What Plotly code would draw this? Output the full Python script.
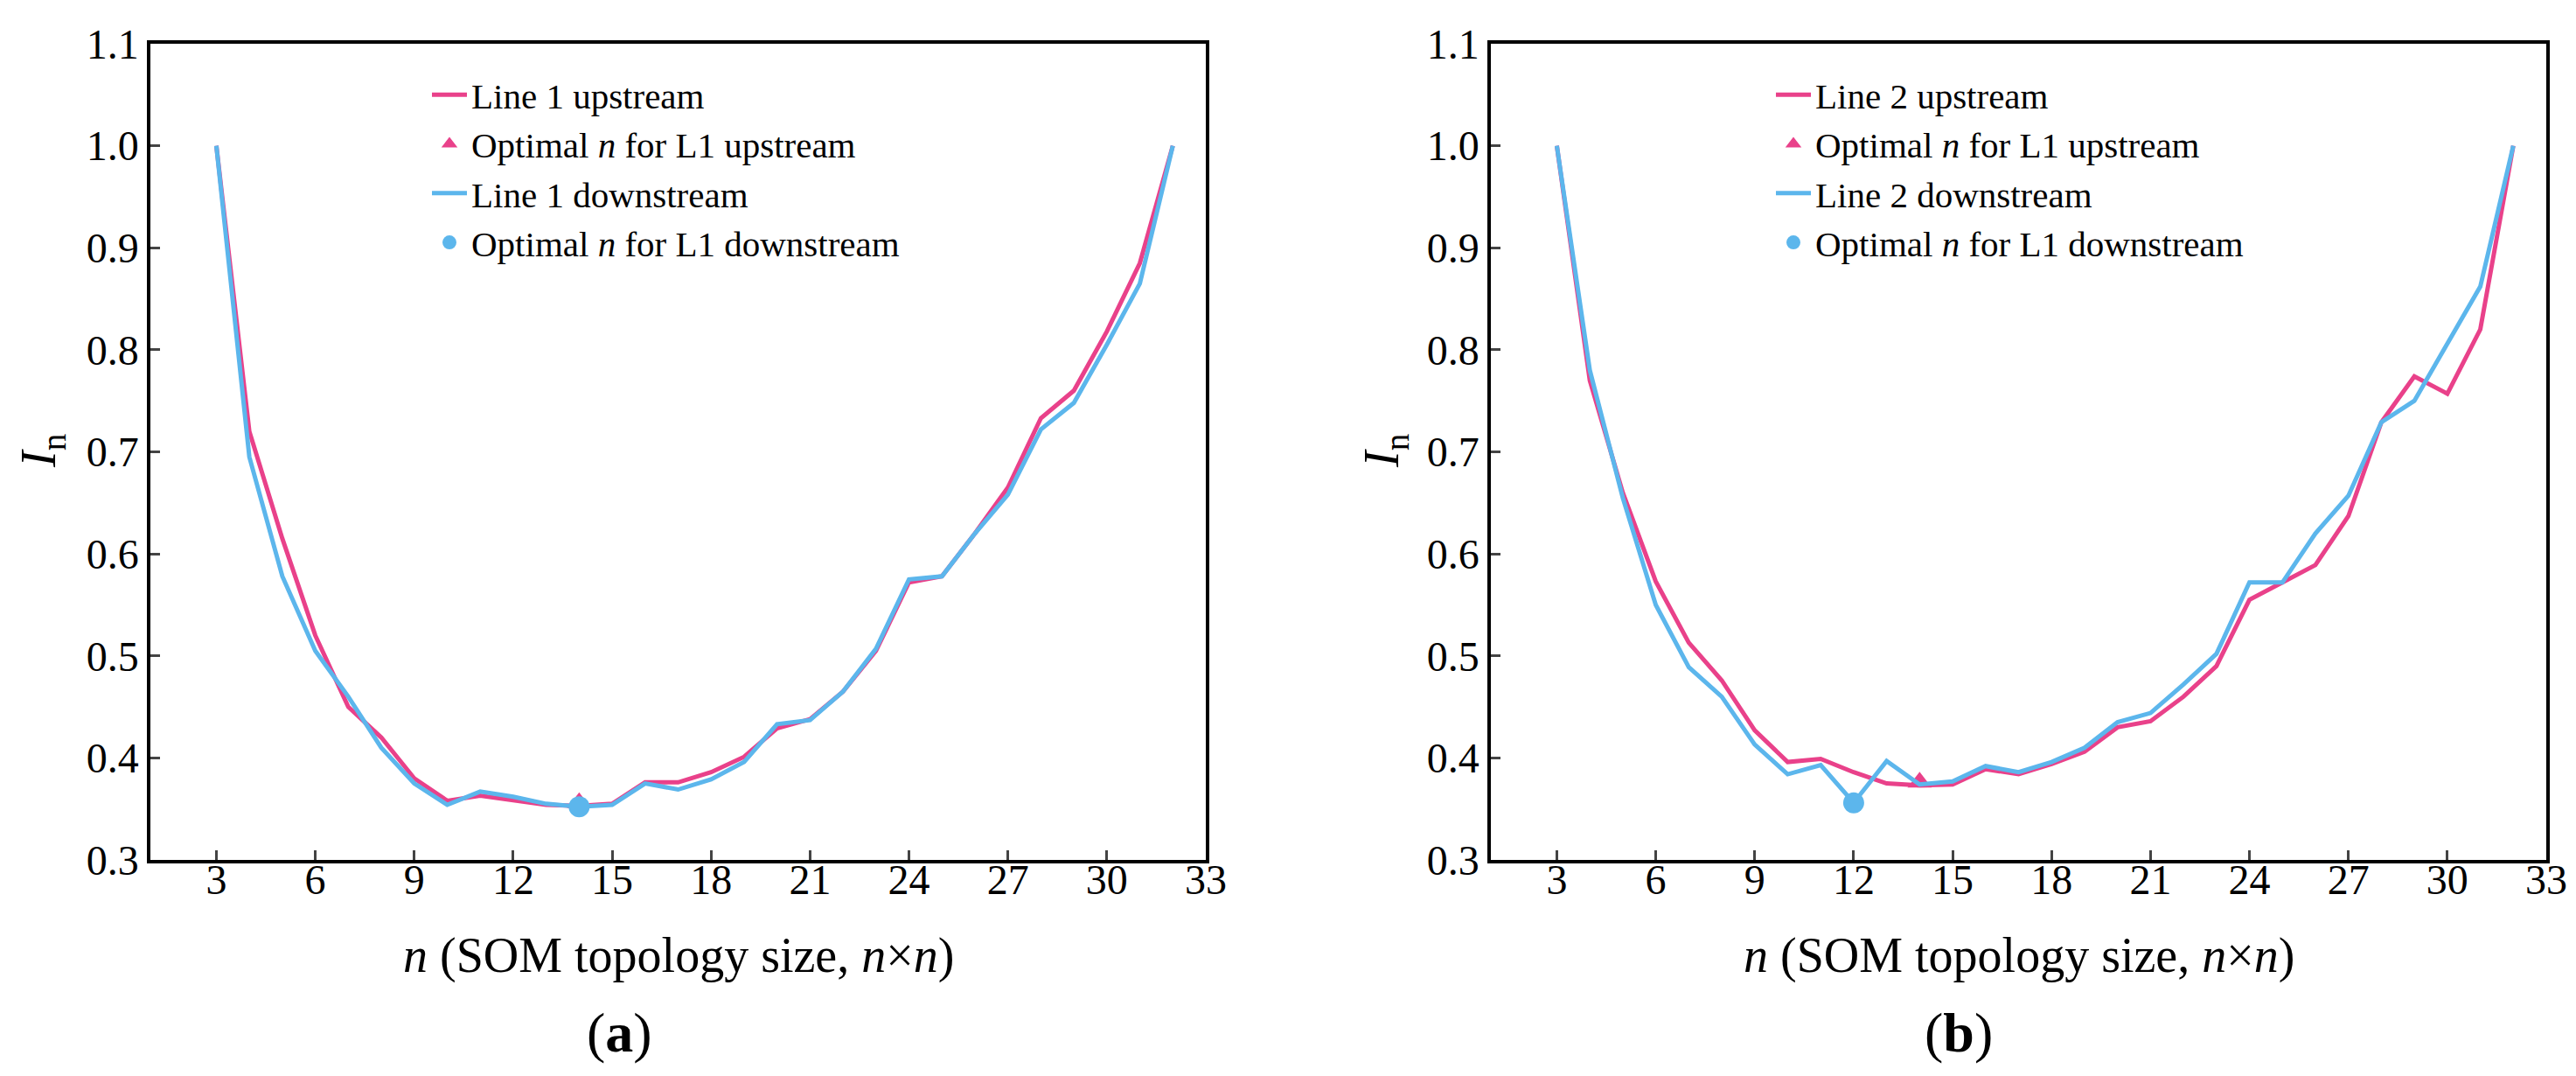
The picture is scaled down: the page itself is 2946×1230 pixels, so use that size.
import plotly.graph_objects as go

# eixo x: tamanho n da topologia SOM
n_vals = list(range(3, 33))

# painel (a) - linha 1
l1_up = [1.0, 0.72, 0.615, 0.52, 0.45, 0.42, 0.38, 0.358, 0.363, 0.358,
         0.354, 0.353, 0.355, 0.376, 0.376, 0.386, 0.401, 0.429, 0.438, 0.465,
         0.505, 0.572, 0.578, 0.62, 0.665, 0.733, 0.76, 0.818, 0.885, 1.0]
l1_down = [1.0, 0.695, 0.578, 0.505, 0.46, 0.41, 0.375, 0.354, 0.367, 0.362,
           0.355, 0.352, 0.354, 0.375, 0.369, 0.379, 0.396, 0.433, 0.437, 0.465,
           0.507, 0.575, 0.578, 0.62, 0.658, 0.722, 0.748, 0.805, 0.865, 1.0]

# painel (b) - linha 2
l2_up = [1.0, 0.77, 0.66, 0.573, 0.513, 0.476, 0.427, 0.396, 0.399, 0.386,
         0.375, 0.373, 0.374, 0.389, 0.384, 0.394, 0.406, 0.43, 0.436, 0.46,
         0.49, 0.555, 0.572, 0.589, 0.637, 0.729, 0.774, 0.757, 0.82, 1.0]
l2_down = [1.0, 0.78, 0.655, 0.55, 0.489, 0.46, 0.413, 0.384, 0.393, 0.356,
           0.397, 0.374, 0.377, 0.392, 0.386, 0.396, 0.41, 0.435, 0.444, 0.472,
           0.502, 0.572, 0.572, 0.62, 0.657, 0.729, 0.75, 0.805, 0.862, 1.0]

# pontos ótimos (n, In)
opt_a_up = (14, 0.356)
opt_a_down = (14, 0.352)
opt_b_up = (14, 0.376)
opt_b_down = (12, 0.356)

x_ticks = list(range(3, 34, 3))
y_ticks = [0.3, 0.4, 0.5, 0.6, 0.7, 0.8, 0.9, 1.0, 1.1]

PINK = '#E9418A'
BLUE = '#5CB6EC'
FONT = 'Liberation Serif, DejaVu Serif, Times New Roman, serif'

fig = go.Figure()

def add_panel(fig, up, down, opt_up, opt_down, line_no, xa, ya, leg):
    fig.add_trace(go.Scatter(x=n_vals, y=up, mode='lines', name=f'Line {line_no} upstream',
                             line=dict(color=PINK, width=5), xaxis=xa, yaxis=ya, legend=leg))
    fig.add_trace(go.Scatter(x=[opt_up[0]], y=[opt_up[1]], mode='markers',
                             name='Optimal <i>n</i> for L1 upstream',
                             marker=dict(symbol='triangle-up', color=PINK, size=24),
                             xaxis=xa, yaxis=ya, legend=leg))
    fig.add_trace(go.Scatter(x=n_vals, y=down, mode='lines', name=f'Line {line_no} downstream',
                             line=dict(color=BLUE, width=5), xaxis=xa, yaxis=ya, legend=leg))
    fig.add_trace(go.Scatter(x=[opt_down[0]], y=[opt_down[1]], mode='markers',
                             name='Optimal <i>n</i> for L1 downstream',
                             marker=dict(symbol='circle', color=BLUE, size=24),
                             xaxis=xa, yaxis=ya, legend=leg))

add_panel(fig, l1_up, l1_down, opt_a_up, opt_a_down, 1, 'x', 'y', 'legend')
add_panel(fig, l2_up, l2_down, opt_b_up, opt_b_down, 2, 'x2', 'y2', 'legend2')

W, H = 2946, 1230
y_dom = [1 - 975 / H, 1 - 42 / H]

eixo_x = dict(range=[1, 33], tickvals=x_ticks, ticks='inside', ticklen=11, tickwidth=3,
              showline=True, linecolor='black', linewidth=3.5, mirror=True,
              showgrid=False, zeroline=False, automargin=False, ticklabelstandoff=-22,
              tickfont=dict(family=FONT, size=48, color='black'))
eixo_y = dict(range=[0.3, 1.1], tickvals=y_ticks, tickformat='.1f', ticks='inside',
              ticklen=11, tickwidth=3, showline=True, linecolor='black', linewidth=3.5,
              mirror=True, showgrid=False, zeroline=False, automargin=False,
              tickfont=dict(family=FONT, size=48, color='black'))

legenda = dict(font=dict(family=FONT, size=41, color='black'), bgcolor='rgba(0,0,0,0)',
               xanchor='left', yanchor='top', tracegroupgap=0, itemwidth=40)

fig.update_layout(
    width=W, height=H,
    font=dict(family=FONT, color='black'),
    margin=dict(l=0, r=0, t=0, b=0),
    paper_bgcolor='white', plot_bgcolor='white',
    xaxis=dict(eixo_x, domain=[164 / W, 1371 / W], anchor='y'),
    yaxis=dict(eixo_y, domain=y_dom, anchor='x'),
    xaxis2=dict(eixo_x, domain=[1697 / W, 2904 / W], anchor='y2'),
    yaxis2=dict(eixo_y, domain=y_dom, anchor='x2'),
    legend=dict(legenda, x=481 / W, y=1 - 67 / H),
    legend2=dict(legenda, x=2018 / W, y=1 - 67 / H),
    showlegend=True,
)

# títulos dos eixos e rótulos dos painéis
for x_ax_c, y_lab_x, tag_x, tag in [((164 + 1371) / 2, 40, 700, 'a'),
                                     ((1697 + 2904) / 2, 1576, 2232, 'b')]:
    fig.add_annotation(x=x_ax_c / W, y=1 - 1084 / H, xref='paper', yref='paper',
                       text='<i>n</i> (SOM topology size, <i>n</i>×<i>n</i>)', showarrow=False,
                       font=dict(family=FONT, size=56, color='black'),
                       xanchor='center', yanchor='middle')
    fig.add_annotation(x=y_lab_x / W, y=1 - 508 / H, xref='paper', yref='paper',
                       text='<i>I</i><sub>n</sub>', showarrow=False, textangle=-90,
                       font=dict(family=FONT, size=56, color='black'),
                       xanchor='center', yanchor='middle')
    fig.add_annotation(x=tag_x / W, y=1 - 1172 / H, xref='paper', yref='paper',
                       text=f'(<b>{tag}</b>)', showarrow=False,
                       font=dict(family=FONT, size=64, color='black'),
                       xanchor='center', yanchor='middle')

fig.write_html("out.html")
